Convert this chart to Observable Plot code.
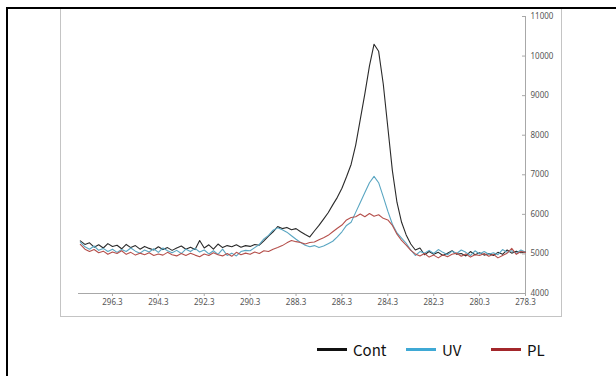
<!DOCTYPE html>
<html>
<head>
<meta charset="utf-8">
<script src="https://cdn.jsdelivr.net/npm/d3@7"></script>
<script src="https://cdn.jsdelivr.net/npm/@observablehq/plot@0.6"></script>
<style>
  html, body { margin: 0; padding: 0; background: #fff; }
  #wrap { position: relative; width: 616px; height: 376px; overflow: hidden; background: #fff; }
  #chart { position: absolute; left: 0; top: 0; }
  .blk { position: absolute; background: #000; }
  #inner { position: absolute; left: 60px; top: 8px; width: 500px; height: 307px; border: 1px solid #c4c4c4; }
  .leg { position: absolute; top: 339px; height: 20px; display: flex; align-items: center;
         font-family: "Noto Sans CJK JP", "Noto Sans", sans-serif; font-size: 15px; color: #111; }
  .leg .sw { width: 30px; height: 3px; margin-right: 6px; }
</style>
</head>
<body>
<div id="wrap">
  <div id="chart"></div>
  <div id="inner"></div>
  <div class="blk" style="left:6px; top:7px; width:610px; height:2px;"></div>
  <div class="blk" style="left:6px; top:7px; width:2px; height:369px;"></div>
  <div id="legend"></div>
</div>
<script>
// Binding energy grid (eV): first point and sampling step
const energyStart = 297.7;
const energyStep = 0.2;

const seriesNames = ["Cont", "UV", "PL"];
const lineColors = ["#2a2a2a", "#5aa6c2", "#b5504c"];
const legendColors = ["#111111", "#3fa9d5", "#a3272b"];

const xTicks = [296.3, 294.3, 292.3, 290.3, 288.3, 286.3, 284.3, 282.3, 280.3, 278.3];
const yTicks = [4000, 5000, 6000, 7000, 8000, 9000, 10000, 11000];

const cont = [
  5330, 5240, 5280, 5170, 5230, 5150, 5260, 5190, 5220, 5130,
  5240, 5160, 5210, 5120, 5190, 5140, 5100, 5180, 5110, 5160,
  5090, 5150, 5200, 5120, 5170, 5110, 5340, 5150, 5230, 5120,
  5250, 5160, 5210, 5180, 5230, 5170, 5210, 5190, 5240, 5220,
  5330, 5450, 5560, 5690, 5640, 5670, 5610, 5640, 5560, 5490,
  5430, 5580, 5720, 5880, 6040, 6240, 6430, 6660, 6950, 7260,
  7750, 8400, 9050, 9750, 10300, 10120, 9300, 8200, 7100, 6300,
  5800, 5480, 5250, 5100, 5150, 4980, 5060, 4990, 5040, 4960,
  5020, 5080, 4990, 5010, 4950, 5060, 4980, 5030, 4970, 5010,
  4960, 5040, 4990, 5100, 5020, 5070, 5030, 5050
];

const uv = [
  5300, 5180, 5120, 5200, 5090, 5140, 5060, 5120, 5040, 5110,
  5060, 5150, 5070, 5020, 5100, 5050, 5130, 5040, 5150, 5080,
  5030, 5090, 5010, 5120, 5060, 5140, 5050, 5100, 5000, 5080,
  4990, 5120, 4960, 5020, 4950, 5060, 5090, 5080, 5160, 5240,
  5380, 5470, 5600, 5660, 5610, 5550, 5460, 5370, 5290, 5220,
  5180, 5210, 5160, 5200, 5260, 5320, 5430, 5560, 5720, 5800,
  6050, 6300, 6550, 6800, 6960, 6800, 6450, 6080, 5750, 5530,
  5400, 5270, 5100, 4960, 5060, 5020, 5090, 5010, 5110, 5040,
  4980, 5070, 5010, 5100, 5040, 4960, 5080, 5000, 5060, 4990,
  5030, 4980, 5110, 5040, 5080, 5020, 5100, 5040
];

const pl = [
  5240, 5120, 5060, 5110, 5030, 5070, 4990, 5050, 5010, 5080,
  4990, 5040, 4970, 5020, 4980, 5030, 4960, 5000, 4970, 5040,
  4980, 4950, 5010, 4960, 5020, 4970, 4930, 5000, 4960, 5030,
  4980, 4950, 5010, 4940, 5040, 4980, 5020, 4990, 5050, 5010,
  5080, 5060, 5120, 5160, 5210, 5280, 5340, 5310, 5290, 5250,
  5290, 5300, 5360, 5410, 5470, 5560, 5650, 5730, 5860, 5920,
  5940, 6010, 5940, 6020, 5950, 5990, 5900, 5860, 5720, 5500,
  5340, 5220, 5090, 5000, 4950, 5010, 4920, 4970, 4900, 4980,
  4930, 4990, 5020, 4940, 5000, 4920, 4980, 4960, 5010, 4940,
  4990, 4900, 4960, 5020, 5140, 4990, 5060, 5040
];

const seriesValues = [cont, uv, pl];
const rows = seriesNames.flatMap((name, k) =>
  seriesValues[k].map((v, i) => ({
    energy: +(energyStart - energyStep * i).toFixed(1),
    intensity: v,
    series: name
  }))
);

const axisGray = "#a8a8a8";
const chart = Plot.plot({
  width: 616,
  height: 326,
  marginLeft: 78,
  marginRight: 91,
  marginTop: 16,
  marginBottom: 33,
  style: { background: "transparent", fontFamily: "'Noto Sans', sans-serif", fontSize: "8px" },
  x: { domain: [297.78, 278.3], label: null },
  y: { domain: [4000, 11000], label: null },
  color: { domain: seriesNames, range: lineColors },
  marks: [
    Plot.ruleY([4000], { stroke: axisGray }),
    Plot.ruleX([278.3], { stroke: axisGray }),
    Plot.axisX({ ticks: xTicks, tickFormat: d => d.toFixed(1), tickSize: 3, tickPadding: 3,
                 stroke: axisGray, fill: "#555", label: null }),
    Plot.axisY({ anchor: "right", ticks: yTicks, tickFormat: d => String(d), tickSize: 4, dx: -4,
                 tickPadding: 5, stroke: axisGray, fill: "#555", label: null }),
    Plot.line(rows, { x: "energy", y: "intensity", z: "series", stroke: "series", strokeWidth: 1.1 })
  ]
});
document.getElementById("chart").appendChild(chart);

// Legend
const legendLeft = [317, 406, 491];
const legend = document.getElementById("legend");
seriesNames.forEach((name, k) => {
  const item = document.createElement("div");
  item.className = "leg";
  item.style.left = legendLeft[k] + "px";
  const sw = document.createElement("span");
  sw.className = "sw";
  sw.style.background = legendColors[k];
  const tx = document.createElement("span");
  tx.textContent = name;
  item.appendChild(sw);
  item.appendChild(tx);
  legend.appendChild(item);
});
</script>
</body>
</html>
